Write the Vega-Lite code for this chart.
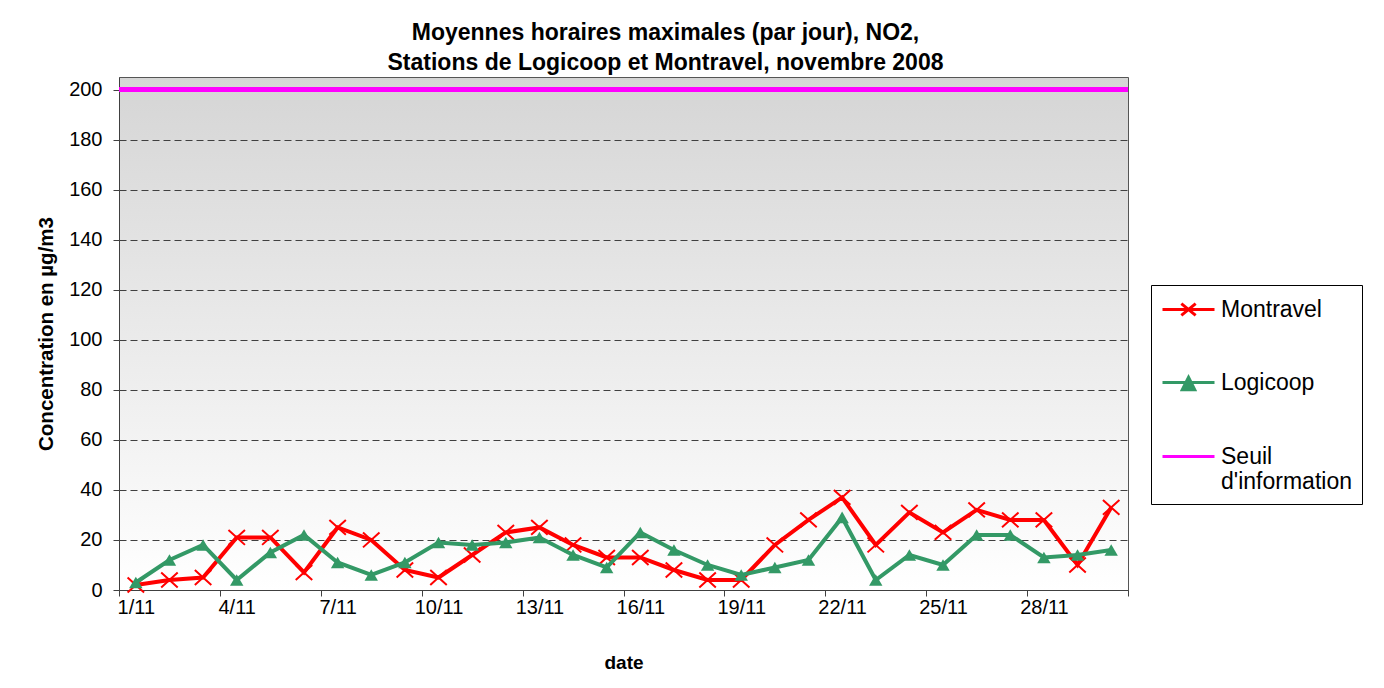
{
  "$schema": "https://vega.github.io/schema/vega-lite/v6.json",
  "width": 1009,
  "height": 513,
  "autosize": {"type": "none"},
  "padding": {"left": 119, "top": 77, "right": 256, "bottom": 98},
  "background": "#ffffff",
  "view": {
    "fill": {"gradient": "linear", "x1": 0, "y1": 0, "x2": 0, "y2": 1,
      "stops": [{"offset": 0, "color": "#d5d5d5"}, {"offset": 1, "color": "#ffffff"}]},
    "stroke": "#555555",
    "strokeWidth": 1
  },
  "title": {
    "text": ["Moyennes horaires maximales (par jour), NO2,", "Stations de Logicoop et Montravel, novembre 2008"],
    "font": "Liberation Sans",
    "fontSize": 23,
    "fontWeight": "bold",
    "color": "#000000",
    "anchor": "middle",
    "frame": "group",
    "dx": 42,
    "offset": 2,
    "lineHeight": 30
  },
  "data": {
    "values": [
      {"day": 1, "series": "Montravel", "value": 2},
      {"day": 2, "series": "Montravel", "value": 4},
      {"day": 3, "series": "Montravel", "value": 5},
      {"day": 4, "series": "Montravel", "value": 21},
      {"day": 5, "series": "Montravel", "value": 21},
      {"day": 6, "series": "Montravel", "value": 7},
      {"day": 7, "series": "Montravel", "value": 25},
      {"day": 8, "series": "Montravel", "value": 20},
      {"day": 9, "series": "Montravel", "value": 8},
      {"day": 10, "series": "Montravel", "value": 5},
      {"day": 11, "series": "Montravel", "value": 14},
      {"day": 12, "series": "Montravel", "value": 23},
      {"day": 13, "series": "Montravel", "value": 25},
      {"day": 14, "series": "Montravel", "value": 18},
      {"day": 15, "series": "Montravel", "value": 13},
      {"day": 16, "series": "Montravel", "value": 13},
      {"day": 17, "series": "Montravel", "value": 8},
      {"day": 18, "series": "Montravel", "value": 4},
      {"day": 19, "series": "Montravel", "value": 4},
      {"day": 20, "series": "Montravel", "value": 18},
      {"day": 21, "series": "Montravel", "value": 28},
      {"day": 22, "series": "Montravel", "value": 37},
      {"day": 23, "series": "Montravel", "value": 18},
      {"day": 24, "series": "Montravel", "value": 31},
      {"day": 25, "series": "Montravel", "value": 23},
      {"day": 26, "series": "Montravel", "value": 32},
      {"day": 27, "series": "Montravel", "value": 28},
      {"day": 28, "series": "Montravel", "value": 28},
      {"day": 29, "series": "Montravel", "value": 10},
      {"day": 30, "series": "Montravel", "value": 33},
      {"day": 1, "series": "Logicoop", "value": 3},
      {"day": 2, "series": "Logicoop", "value": 12},
      {"day": 3, "series": "Logicoop", "value": 18},
      {"day": 4, "series": "Logicoop", "value": 4},
      {"day": 5, "series": "Logicoop", "value": 15},
      {"day": 6, "series": "Logicoop", "value": 22},
      {"day": 7, "series": "Logicoop", "value": 11},
      {"day": 8, "series": "Logicoop", "value": 6},
      {"day": 9, "series": "Logicoop", "value": 11},
      {"day": 10, "series": "Logicoop", "value": 19},
      {"day": 11, "series": "Logicoop", "value": 18},
      {"day": 12, "series": "Logicoop", "value": 19},
      {"day": 13, "series": "Logicoop", "value": 21},
      {"day": 14, "series": "Logicoop", "value": 14},
      {"day": 15, "series": "Logicoop", "value": 9},
      {"day": 16, "series": "Logicoop", "value": 23},
      {"day": 17, "series": "Logicoop", "value": 16},
      {"day": 18, "series": "Logicoop", "value": 10},
      {"day": 19, "series": "Logicoop", "value": 6},
      {"day": 20, "series": "Logicoop", "value": 9},
      {"day": 21, "series": "Logicoop", "value": 12},
      {"day": 22, "series": "Logicoop", "value": 29},
      {"day": 23, "series": "Logicoop", "value": 4},
      {"day": 24, "series": "Logicoop", "value": 14},
      {"day": 25, "series": "Logicoop", "value": 10},
      {"day": 26, "series": "Logicoop", "value": 22},
      {"day": 27, "series": "Logicoop", "value": 22},
      {"day": 28, "series": "Logicoop", "value": 13},
      {"day": 29, "series": "Logicoop", "value": 14},
      {"day": 30, "series": "Logicoop", "value": 16}
    ]
  },
  "encoding": {
    "x": {
      "field": "day",
      "type": "quantitative",
      "scale": {"domain": [0.5, 30.5], "nice": false, "zero": false},
      "axis": {
        "title": "date",
        "values": [0.5, 1, 3.5, 4, 6.5, 7, 9.5, 10, 12.5, 13, 15.5, 16, 18.5, 19, 21.5, 22, 24.5, 25, 27.5, 28, 30.5],
        "labelExpr": "datum.value % 1 === 0 ? datum.value + '/11' : ''",
        "tickOpacity": {"condition": {"test": "datum.value % 1 === 0", "value": 0}, "value": 1},
        "labelOverlap": false,
        "labelFlush": false,
        "grid": false,
        "tickSize": 6,
        "labelPadding": 1,
        "titlePadding": 36
      }
    },
    "y": {
      "field": "value",
      "type": "quantitative",
      "scale": {"domain": [0, 205], "nice": false},
      "axis": {
        "title": "Concentration en µg/m3",
        "titleFontSize": 20.5,
        "values": [0, 20, 40, 60, 80, 100, 120, 140, 160, 180, 200],
        "grid": true,
        "gridDash": [7, 4],
        "gridColor": "#404040",
        "gridWidth": 1,
        "tickSize": 6,
        "labelPadding": 11,
        "titlePadding": 12
      }
    },
    "color": {
      "field": "series",
      "type": "nominal",
      "scale": {"domain": ["Montravel", "Logicoop", "Seuil d'information"], "range": ["#ff0000", "#339966", "#ff00ff"]},
      "legend": {
        "orient": "none",
        "legendX": 1032,
        "legendY": 208,
        "title": null,
        "strokeColor": "#000000",
        "fillColor": "#ffffff",
        "padding": 10,
        "rowPadding": 46,
        "symbolSize": 676,
        "symbolStrokeWidth": 3,
        "symbolOffset": 13,
        "labelOffset": 18,
        "labelFont": "Liberation Sans",
        "labelFontSize": 23,
        "labelColor": "#000000",
        "labelLimit": 300,
        "labelExpr": "datum.label === \"Seuil d'information\" ? ['Seuil', \"d'information\"] : datum.label",
        "encode": {
          "symbols": {
            "update": {
              "shape": {"signal": "datum.value === 'Montravel' ? 'M-2,0H2M-0.55,-0.45L0.55,0.45M-0.55,0.45L0.55,-0.45' : datum.value === 'Logicoop' ? 'M-2,0H2M0,-0.4L0.48,0.55L-0.48,0.55Z' : 'M-2,0H2'"},
              "fill": {"signal": "datum.value === 'Logicoop' ? '#339966' : 'transparent'"},
              "opacity": {"value": 1}
            }
          }
        }
      }
    }
  },
  "layer": [
    {
      "transform": [{"filter": "datum.series === 'Montravel'"}],
      "mark": {
        "type": "line",
        "strokeWidth": 4,
        "point": {"shape": "M-1,-0.9L1,0.9M-1,0.9L1,-0.9", "filled": false, "size": 272, "strokeWidth": 2}
      }
    },
    {
      "transform": [{"filter": "datum.series === 'Logicoop'"}],
      "mark": {
        "type": "line",
        "strokeWidth": 4,
        "point": {"shape": "triangle-up", "filled": true, "size": 180}
      }
    },
    {
      "mark": {"type": "rule", "strokeWidth": 4},
      "encoding": {
        "y": {"datum": 200},
        "x": null,
        "color": {"datum": "Seuil d'information"}
      }
    }
  ],
  "config": {
    "font": "Liberation Sans",
    "axis": {
      "labelFont": "Liberation Sans",
      "labelFontSize": 20,
      "labelColor": "#000000",
      "titleFont": "Liberation Sans",
      "titleFontSize": 19,
      "titleFontWeight": "bold",
      "titleColor": "#000000",
      "domainColor": "#404040",
      "domainWidth": 1,
      "tickColor": "#404040",
      "tickWidth": 1
    }
  }
}
